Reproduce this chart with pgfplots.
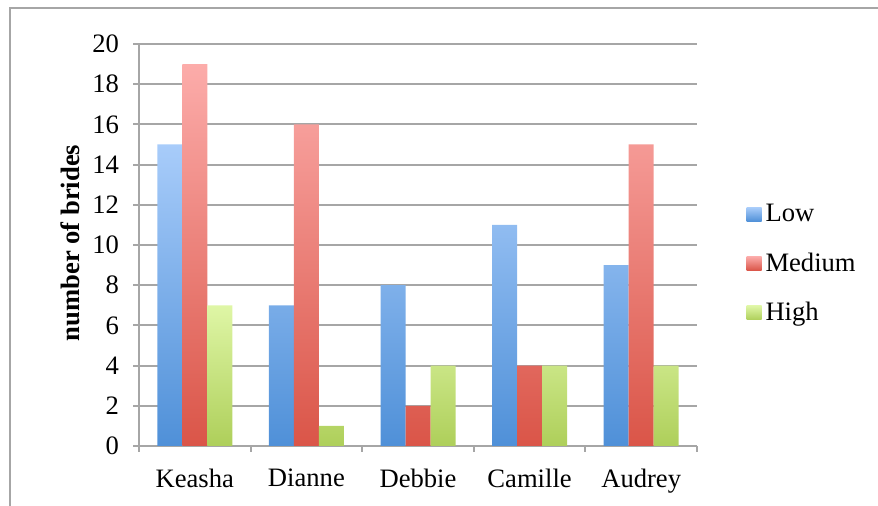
\documentclass[border=0pt]{standalone}
\usepackage{pgfplots}
\pgfplotsset{compat=1.18}
\usepackage{fontspec}
\setmainfont{Liberation Serif}
\definecolor{lowT}{HTML}{A8CCFA}
\definecolor{lowB}{HTML}{4F90D8}
\definecolor{medT}{HTML}{FCACAA}
\definecolor{medB}{HTML}{DA5548}
\definecolor{higT}{HTML}{DFF6A6}
\definecolor{higB}{HTML}{AECF5A}
\definecolor{gridc}{HTML}{A6A6A6}
\begin{document}
\begin{tikzpicture}[font=\fontsize{13.3}{15}\selectfont]
\path[use as bounding box] (0,0) rectangle (439pt,253pt);
\draw[gridc, line width=1pt] (5pt,0) -- (5pt,249pt) -- (439pt,249pt);
\begin{axis}[
  at={(69.5pt,30pt)}, anchor=south west,
  scale only axis, width=279pt, height=201pt,
  ybar=0pt, bar width=12.5pt,
  xmin=-0.5, xmax=4.5, ymin=0, ymax=20,
  ytick={0,2,...,20},
  xtick={0,1,2,3,4},
  xticklabels={Keasha,Dianne,Debbie,Camille,Audrey},
  minor xtick={-0.5,0.5,1.5,2.5,3.5,4.5},
  axis x line=bottom, axis y line=left,
  axis line style={gridc, line width=1pt, -},
  tick align=outside,
  major tick length=3pt, minor tick length=3pt,
  x tick style={draw=none},
  minor x tick style={draw=gridc, line width=1pt},
  y tick style={draw=gridc, line width=1pt},
  ymajorgrids, grid style={gridc, line width=1pt},
  /pgf/number format/assume math mode=true,
  ticklabel style={font=\fontsize{13.3}{15}\selectfont},
  yticklabel style={xshift=-3.5pt},
  xticklabel style={yshift=-5pt},
  ylabel={\textbf{number of brides}},
  every axis y label/.style={at={(axis description cs:-0.124,0.505)}, rotate=90, anchor=center, font=\fontsize{13.3}{15}\selectfont},
  legend style={at={(axis description cs:1.088,0.453)}, anchor=west, draw=none, fill=none, inner sep=0pt, row sep=10pt, font=\fontsize{13.3}{15}\selectfont, cells={anchor=west}},
  legend image code/.code={\path[#1,draw=none] (0pt,-3.5pt) rectangle (7.5pt,3.5pt);},
]
\addplot[draw=none, top color=lowT, bottom color=lowB] coordinates {(0,15) (1,7) (2,8) (3,11) (4,9)};
\addplot[draw=none, top color=medT, bottom color=medB] coordinates {(0,19) (1,16) (2,2) (3,4) (4,15)};
\addplot[draw=none, top color=higT, bottom color=higB] coordinates {(0,7) (1,1) (2,4) (3,4) (4,4)};
\legend{Low,Medium,High}
\end{axis}
\end{tikzpicture}
\end{document}
